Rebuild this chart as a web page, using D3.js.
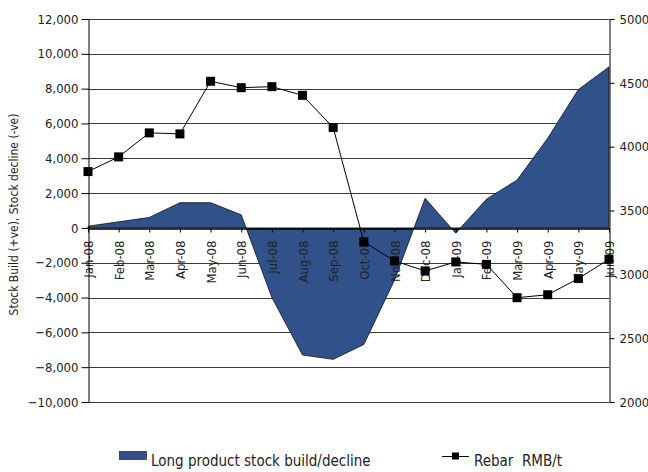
<!DOCTYPE html>
<html>
<head>
<meta charset="utf-8">
<script src="https://cdn.jsdelivr.net/npm/d3@7"></script>
<style>
html,body{margin:0;padding:0;background:#fff;}
svg{display:block;}
text{font-family:"Liberation Sans Narrow","Arial Narrow","DejaVu Sans Condensed",sans-serif;fill:#222;}
</style>
</head>
<body>
<svg id="chart" width="648" height="472"></svg>
<script>
const months = ["Jan-08","Feb-08","Mar-08","Apr-08","May-08","Jun-08","Jul-08","Aug-08","Sep-08","Oct-08","Nov-08","Dec-08","Jan-09","Feb-09","Mar-09","Apr-09","May-09","Jun-09"];
const stockChange = [100,350,600,1450,1450,750,-4000,-7300,-7550,-6700,-3000,1700,-300,1650,2750,5150,7950,9250];
const rebarPrice = [3805,3920,4108,4100,4512,4462,4470,4402,4150,3255,3105,3027,3097,3078,2817,2840,2967,3118];
const leftTicks = [-10000,-8000,-6000,-4000,-2000,0,2000,4000,6000,8000,10000,12000];
const rightTicks = [2000,2500,3000,3500,4000,4500,5000];
const seriesNames = ["Long product stock build/decline","Rebar  RMB/t"];
const yTitle = "Stock Build (+ve), Stock decline (-ve)";

const svg = d3.select("#chart");
svg.append("rect").attr("width",648).attr("height",472).attr("fill","#fff");

const L = 88, R = 609, T = 19, B = 402;
const x = d3.scalePoint().domain(months).range([L, R]);
const yL = d3.scaleLinear().domain([-10000, 12000]).range([B, T]);
const yR = d3.scaleLinear().domain([2000, 5000]).range([B, T]);

const fillBlue = "#30518a";

// gridlines
svg.append("g").selectAll("line").data(leftTicks.filter(d => d !== 0)).join("line")
  .attr("x1", L).attr("x2", R)
  .attr("y1", d => Math.round(yL(d)) + 0.5).attr("y2", d => Math.round(yL(d)) + 0.5)
  .attr("stroke", "#3a3a3a").attr("stroke-width", 1);

// area
const area = d3.area()
  .x((d, i) => x(months[i]))
  .y0(yL(0))
  .y1(d => yL(d));
svg.append("path").datum(stockChange)
  .attr("d", area)
  .attr("fill", fillBlue)
  .attr("stroke", "#111").attr("stroke-width", 0.8);

// x axis at zero
const xAxis = svg.append("g")
  .attr("transform", `translate(0,${Math.round(yL(0)) + 0.5})`)
  .call(d3.axisBottom(x).tickSize(4).tickSizeOuter(0));
xAxis.select(".domain").attr("stroke", "#000").attr("stroke-width", 1.3);
xAxis.selectAll(".tick line").attr("stroke", "#000");
xAxis.selectAll(".tick text")
  .attr("transform", "rotate(-90)")
  .attr("text-anchor", "end")
  .attr("x", -12).attr("y", 0).attr("dy", "0.35em")
  .style("font-size", "13px").attr("fill", "#222");

// left axis
const yAxisL = svg.append("g")
  .attr("transform", `translate(${L + 0.5},0)`)
  .call(d3.axisLeft(yL).tickValues(leftTicks).tickFormat(d3.format(",")).tickSize(7).tickPadding(3).tickSizeOuter(0));
yAxisL.select(".domain").attr("stroke", "#000");
yAxisL.selectAll(".tick line").attr("stroke", "#000");
yAxisL.selectAll(".tick text").style("font-size", "13px").attr("fill", "#222");

// right axis
const yAxisR = svg.append("g")
  .attr("transform", `translate(${R + 0.5},0)`)
  .call(d3.axisRight(yR).tickValues(rightTicks).tickFormat(d3.format("d")).tickSize(5).tickPadding(5).tickSizeOuter(0));
yAxisR.select(".domain").attr("stroke", "#000");
yAxisR.selectAll(".tick line").attr("stroke", "#000");
yAxisR.selectAll(".tick text").style("font-size", "13px").attr("fill", "#222");

// rebar line
const line = d3.line().x((d, i) => x(months[i])).y(d => yR(d));
svg.append("path").datum(rebarPrice)
  .attr("d", line).attr("fill", "none").attr("stroke", "#000").attr("stroke-width", 1);
const ms = 9;
svg.append("g").selectAll("rect").data(rebarPrice).join("rect")
  .attr("x", (d, i) => x(months[i]) - ms / 2)
  .attr("y", d => yR(d) - ms / 2)
  .attr("width", ms).attr("height", ms)
  .attr("fill", "#000");

// y title
svg.append("text")
  .attr("transform", `translate(18,${(T + B) / 2 + 4}) rotate(-90)`)
  .attr("text-anchor", "middle")
  .style("font-size", "12px")
  .text(yTitle);

// legend
const lg = svg.append("g");
lg.append("rect").attr("x", 119.5).attr("y", 451.5).attr("width", 27).attr("height", 8)
  .attr("fill", fillBlue).attr("stroke", "#333").attr("stroke-width", 0.8);
lg.append("text").attr("x", 151).attr("y", 466).style("font-size", "15px").text(seriesNames[0]);
lg.append("line").attr("x1", 442).attr("x2", 469).attr("y1", 456.5).attr("y2", 456.5).attr("stroke", "#000");
lg.append("rect").attr("x", 452).attr("y", 452.5).attr("width", 7).attr("height", 7).attr("fill", "#000");
lg.append("text").attr("x", 474).attr("y", 466).style("font-size", "15px").style("white-space", "pre").attr("xml:space", "preserve").text(seriesNames[1]);
</script>
</body>
</html>
